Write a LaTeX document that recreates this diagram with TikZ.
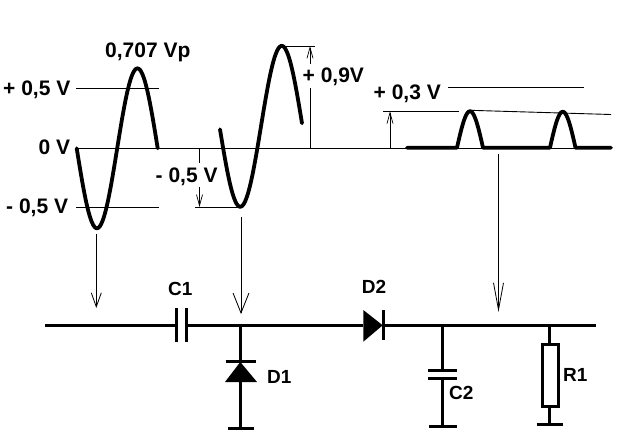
\documentclass[tikz,border=0pt]{standalone}
\usepackage{fontspec}
\setmainfont{Liberation Sans}
\usetikzlibrary{arrows.meta}
\tikzset{
  thinline/.style={line width=0.9pt,black},
  wire/.style={line width=3pt,black},
  wave/.style={line width=3.8pt,black,line cap=round,line join=round},
  bigtext/.style={anchor=base west,inner sep=0pt,font=\fontsize{21}{23}\selectfont\bfseries},
  parttext/.style={anchor=base west,inner sep=0pt,font=\fontsize{19}{21}\selectfont\bfseries},
  probeS/.style={thinline,-{Straight Barb[length=14pt,width=10pt,line width=0.8pt]}},
  probeL/.style={thinline,-{Straight Barb[length=20pt,width=16pt,line width=0.8pt]}},
  probeN/.style={thinline,-{Straight Barb[length=27pt,width=10pt,line width=0.8pt]}},
  tick/.style={thinline,-{Straight Barb[length=11pt,width=6pt,line width=0.7pt]}}
}
\begin{document}
\begin{tikzpicture}[x=1pt,y=-1pt]
\useasboundingbox[fill=white] (0,0) rectangle (630,445);
% labels
\node[bigtext] (lvp) at (105,57.7) {0,707 Vp};
\node[bigtext] (lp5) at (3,95) {+ 0,5 V};
\node[bigtext] (l0) at (38.5,154) {0 V};
\node[bigtext] (lm5) at (6,213) {- 0,5 V};
\node[bigtext] (lm5b) at (155.5,182.7) {- 0,5 V};
\node[bigtext] (lp9) at (302.5,82.7) {+ 0,9V};
\node[bigtext] (lp3) at (373.5,99.3) {+ 0,3 V};
\node[parttext] (lc1) at (168,295) {C1};
\node[parttext] (ld1) at (267,383) {D1};
\node[parttext] (ld2) at (361.7,293) {D2};
\node[parttext] (lc2) at (449,399) {C2};
\node[parttext] (lr1) at (563,381.7) {R1};
% reference lines
\coordinate (ax0) at (76,148.3);
\coordinate (ax1) at (610,148.3);
\draw[thinline] (ax0) -- (ax1);
\coordinate (p5a) at (76,88.3); \coordinate (p5b) at (159,88.3);
\draw[thinline] (p5a) -- (p5b);
\coordinate (m5a) at (76,207.3); \coordinate (m5b) at (159,207.3);
\draw[thinline] (m5a) -- (m5b);
\coordinate (m5c) at (195,207.3); \coordinate (m5d) at (240,207.3);
\draw[thinline] (m5c) -- (m5d);
\coordinate (v5a) at (199.5,148.3); \coordinate (v5b) at (199.5,163);
\coordinate (v5c) at (199.5,187); \coordinate (v5d) at (199.5,207);
\draw[thinline] (v5a) -- (v5b);
\draw[tick] (v5c) -- (v5d);
\coordinate (t9a) at (282,46); \coordinate (t9b) at (315,46);
\draw[thinline] (t9a) -- (t9b);
\coordinate (v9a) at (310,148.3); \coordinate (v9b) at (310,88);
\coordinate (v9c) at (310,64); \coordinate (v9d) at (310,46);
\draw[thinline] (v9a) -- (v9b);
\draw[tick] (v9c) -- (v9d);
\coordinate (t3a) at (383,111.3); \coordinate (t3b) at (459,111.3);
\draw[thinline] (t3a) -- (t3b);
\coordinate (v3a) at (390,148.3); \coordinate (v3b) at (390,111.3);
\draw[tick] (v3a) -- (v3b);
\coordinate (u3a) at (448,87.3); \coordinate (u3b) at (584,87.3);
\draw[thinline] (u3a) -- (u3b);
\coordinate (dec0) at (470,110.3); \coordinate (dec1) at (611,114.5);
\draw[thinline] (dec0) -- (dec1);
% waves
\draw[wave] plot[smooth,domain=76.7:157.7,samples=60] (\x,{148.3+80*sin(4.4444*(\x-76.7))});
\draw[wave] plot[smooth,domain=220:302,samples=60] (\x,{126.3-80.5*sin(4.3373*(\x-261))});
\draw[wave] (407,147.7) -- (457,147.7)
  plot[smooth,domain=457:483,samples=24] (\x,{147.7-36.5*sin(6.9231*(\x-457))})
  -- (550,147.7)
  plot[smooth,domain=550:575.5,samples=24] (\x,{147.7-36*sin(7.0588*(\x-550))})
  -- (611,147.7);
% probes
\coordinate (pr1a) at (96.3,234); \coordinate (pr1b) at (96.3,308);
\draw[probeS] (pr1a) -- (pr1b);
\coordinate (pr2a) at (241,217); \coordinate (pr2b) at (241,314);
\draw[probeL] (pr2a) -- (pr2b);
\coordinate (pr3a) at (498.5,154); \coordinate (pr3b) at (498.5,312);
\draw[probeN] (pr3a) -- (pr3b);
% circuit nodes
\coordinate (in) at (45,325.3);
\coordinate (c1l) at (176.7,325.3);
\coordinate (c1r) at (186,325.3);
\coordinate (j1) at (240.3,325.3);
\coordinate (d2a) at (363.3,325.3);
\coordinate (d2k) at (383.3,325.3);
\coordinate (j2) at (442.3,325.3);
\coordinate (j3) at (549.3,325.3);
\coordinate (out) at (595.7,325.3);
\draw[wire] (in) -- (c1l);
\draw[wire] (c1r) -- (d2a);
\draw[wire] (d2k) -- (out);
% C1
\draw[wire] (176.7,308) -- (176.7,342);
\draw[wire] (186,308) -- (186,342);
% D2
\fill[black] (363.3,310) -- (382.7,325.3) -- (363.3,341.7) -- cycle;
\draw[wire] (383.3,310) -- (383.3,340);
% D1
\coordinate (d1k) at (240.3,361);
\coordinate (d1a) at (240.3,381);
\coordinate (g1) at (240.3,428.3);
\draw[wire] (j1) -- (d1k);
\draw[wire] (225.7,361) -- (255.7,361);
\fill[black] (240.3,362) -- (257,382) -- (225,382) -- cycle;
\draw[wire] (d1a) -- (g1);
\draw[wire] (228,428.3) -- (254,428.3);
% C2
\coordinate (c2t) at (442.3,370);
\coordinate (c2b) at (442.3,378);
\coordinate (g2) at (442.3,426);
\draw[wire] (j2) -- (c2t);
\draw[wire] (428,370) -- (456.7,370);
\draw[wire] (428,378) -- (456.7,378);
\draw[wire] (c2b) -- (g2);
\draw[wire] (429,426) -- (457,426);
% R1
\coordinate (r1t) at (549.3,344);
\coordinate (r1b) at (549.3,406);
\coordinate (g3) at (549.3,424);
\draw[wire] (j3) -- (r1t);
\draw[wire] (542,344) rectangle (558.3,406);
\draw[wire] (r1b) -- (g3);
\draw[wire] (536.7,424) -- (563,424);
\end{tikzpicture}
\end{document}
